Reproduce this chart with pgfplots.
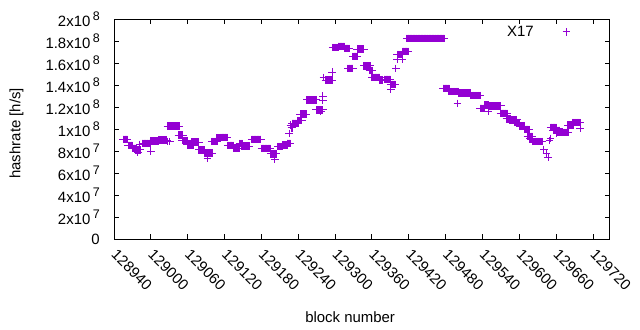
\documentclass[border=0pt]{standalone}
\usepackage{pgfplots}
\pgfplotsset{compat=1.18}
\usepackage{pgfplotstable}
\usepackage{fontspec}
\setmainfont{Liberation Sans}
\definecolor{gpviolet}{HTML}{9400D3}
\newcommand{\sci}[2]{#1x10\,\raisebox{0.42em}{\fontsize{12.5}{12}\selectfont #2}}
\pgfplotstableread{
x y
128955 90.6
128956 90.6
128957 90.6
128958 90.6
128959 90.6
128960 90.6
128961 90.6
128962 90.6
128963 85
128964 85
128965 85
128966 85
128967 85
128968 85
128969 85
128970 85
128970 82.4
128971 82.4
128972 82.4
128973 82.4
128974 82.4
128975 82.4
128976 82.4
128977 82.4
128975 81
128976 81
128977 81
128978 81
128979 81
128980 81
128981 81
128982 81
128983 81
128979 78.5
128982 86
128986 87
128987 87
128988 87
128989 87
128990 87
128991 87
128992 87
128993 87
128994 87
128995 87
128996 87
128997 87
128998 87
128999 87
129000 80
129000 89
129001 89
129002 89
129003 89
129004 89
129005 89
129006 89
129007 89
129008 89
129009 89
129010 89
129011 89
129012 89
129013 89
129012 90
129013 90
129014 90
129015 90
129016 90
129017 90
129018 90
129019 90
129020 90
129021 90
129022 90
129023 90
129024 90
129025 90
129026 90
129027 88.5
129031 88.5
129027 102.7
129028 102.7
129029 102.7
129030 102.7
129031 102.7
129032 102.7
129033 102.7
129034 102.7
129035 102.7
129036 102.7
129037 102.7
129038 102.7
129039 102.7
129040 102.7
129041 102.7
129042 102.7
129043 102.7
129044 102.7
129045 102.7
129046 102.7
129045 94.5
129046 94.5
129047 94.5
129048 94.5
129049 94.5
129050 94.5
129051 94.5
129052 94.5
129051 89.5
129052 89.5
129053 89.5
129054 89.5
129055 89.5
129056 89.5
129057 89.5
129058 89.5
129059 89.5
129059 85.5
129060 85.5
129061 85.5
129062 85.5
129063 85.5
129064 85.5
129065 85.5
129066 85.5
129067 85.5
129068 85.5
129069 85.5
129070 85.5
129067 88
129068 88
129069 88
129070 88
129071 88
129072 88
129073 88
129074 88
129075 88
129076 88
129077 88
129078 88
129078 81
129079 81
129080 81
129081 81
129082 81
129083 81
129084 81
129085 81
129086 81
129087 81
129088 81
129088 78
129089 78
129090 78
129091 78
129092 78
129093 78
129094 78
129095 78
129096 78
129097 78
129098 78
129099 78
129100 78
129092 73.6
129099 88.6
129100 88.6
129101 88.6
129102 88.6
129103 88.6
129104 88.6
129105 88.6
129106 88.6
129107 88.6
129108 88.6
129107 91.8
129108 91.8
129109 91.8
129110 91.8
129111 91.8
129112 91.8
129113 91.8
129114 91.8
129114 92.4
129115 92.4
129116 92.4
129117 92.4
129118 92.4
129119 92.4
129120 92.4
129121 92.4
129122 92.4
129123 92.4
129124 92.4
129125 85
129126 85
129127 85
129128 85
129129 85
129130 85
129131 85
129132 85
129133 85
129134 85
129134 82.7
129135 82.7
129136 82.7
129137 82.7
129138 82.7
129139 82.7
129140 82.7
129141 82.7
129142 82.7
129143 82.7
129144 82.7
129145 82.7
129144 86.8
129145 86.8
129146 86.8
129147 86.8
129148 86.8
129149 86.8
129150 86.8
129148 84.5
129149 84.5
129150 84.5
129151 84.5
129152 84.5
129153 84.5
129154 84.5
129155 84.5
129156 84.5
129157 84.5
129158 84.5
129159 84.5
129160 84.5
129161 84.5
129164 90.6
129165 90.6
129166 90.6
129167 90.6
129168 90.6
129169 90.6
129170 90.6
129171 90.6
129172 90.6
129173 90.6
129174 90.6
129175 90.6
129176 90.6
129177 90.6
129178 90.6
129179 90.6
129180 82.4
129181 82.4
129182 82.4
129183 82.4
129184 82.4
129185 82.4
129186 82.4
129187 82.4
129188 82.4
129189 82.4
129190 82.4
129191 82.4
129192 82.4
129193 82.4
129194 82.4
129195 82.4
129195 77.5
129196 77.5
129197 77.5
129198 77.5
129199 77.5
129200 77.5
129201 77.5
129202 77.5
129203 77.5
129204 77.5
129202 72.7
129207 84
129208 84
129209 84
129210 84
129211 84
129212 84
129213 84
129214 84
129215 84
129215 85.5
129216 85.5
129217 85.5
129218 85.5
129219 85.5
129220 85.5
129221 85.5
129222 85.5
129222 87
129223 87
129224 87
129225 87
129226 87
129227 87
129225 96
129227 103.6
129229 101
129231 101
129230 105
129231 105
129232 105
129233 105
129234 105
129235 105
129236 105
129237 105
129238 105
129239 105
129240 105
129238 107.7
129239 107.7
129240 107.7
129241 107.7
129242 107.7
129243 107.7
129244 107.7
129245 107.7
129246 107.7
129243 113.6
129244 113.6
129245 113.6
129246 113.6
129247 113.6
129248 113.6
129249 113.6
129250 113.6
129251 113.6
129252 113.6
129253 113.6
129254 126.4
129255 126.4
129256 126.4
129257 126.4
129258 126.4
129259 126.4
129260 126.4
129261 126.4
129262 126.4
129263 126.4
129264 126.4
129265 126.4
129266 126.4
129267 126.4
129268 126.4
129269 126.4
129270 126.4
129269 117.3
129270 117.3
129271 117.3
129272 117.3
129273 117.3
129274 117.3
129275 117.3
129276 117.3
129277 117.3
129278 117.3
129279 117.3
129280 117.3
129277 115.7
129280 130
129280 125.7
129281 147
129284 144.5
129285 144.5
129286 144.5
129287 144.5
129288 144.5
129289 144.5
129290 144.5
129291 144.5
129292 144.5
129293 144.5
129294 144.5
129295 144.5
129296 144.5
129295 151.8
129296 174
129297 174
129298 174
129299 174
129300 174
129301 174
129302 174
129303 174
129304 174
129305 174
129305 175
129306 175
129307 175
129308 175
129309 175
129310 175
129311 175
129312 175
129313 175
129314 175
129315 175
129315 173.4
129316 173.4
129317 173.4
129318 173.4
129319 173.4
129320 173.4
129321 173.4
129322 173.4
129323 173.4
129321 155
129322 155
129323 155
129324 155
129325 155
129326 155
129327 155
129328 155
129329 155
129329 166
129330 166
129331 166
129332 166
129333 166
129334 166
129335 166
129336 166
129336 172.5
129337 172.5
129338 172.5
129339 172.5
129340 172.5
129341 172.5
129342 172.5
129343 172.5
129344 172.5
129345 172.5
129346 172.5
129347 172.5
129347 157.3
129348 157.3
129349 157.3
129350 157.3
129351 157.3
129352 157.3
129353 157.3
129354 157.3
129355 157.3
129356 157.3
129357 157.3
129356 153
129357 153
129358 153
129359 153
129360 153
129361 153
129360 147
129361 147
129362 147
129363 147
129364 147
129365 147
129366 147
129367 147
129368 147
129369 147
129370 147
129371 147
129372 147
129373 147
129373 144.5
129374 144.5
129375 144.5
129376 144.5
129377 144.5
129378 144.5
129380 145
129381 145
129382 145
129383 145
129384 145
129385 145
129386 145
129387 145
129388 145
129389 145
129390 145
129390 140.5
129391 140.5
129392 140.5
129393 140.5
129394 140.5
129395 140.5
129396 140.5
129397 140.5
129398 140.5
129391 136
129399 155
129401 163
129409 163
129401 167.6
129402 167.6
129403 167.6
129404 167.6
129405 167.6
129406 167.6
129407 167.6
129408 167.6
129409 167.6
129410 167.6
129410 170.6
129411 170.6
129412 170.6
129413 170.6
129414 170.6
129415 170.6
129416 170.6
129417 170.6
129418 170.6
129419 170.6
129417 182.4
129418 182.4
129419 182.4
129420 182.4
129421 182.4
129422 182.4
129423 182.4
129424 182.4
129425 182.4
129426 182.4
129427 182.4
129428 182.4
129429 182.4
129430 182.4
129431 182.4
129432 182.4
129433 182.4
129434 182.4
129435 182.4
129436 182.4
129437 182.4
129438 182.4
129439 182.4
129440 182.4
129441 182.4
129442 182.4
129443 182.4
129444 182.4
129445 182.4
129446 182.4
129447 182.4
129448 182.4
129449 182.4
129450 182.4
129451 182.4
129452 182.4
129453 182.4
129454 182.4
129455 182.4
129456 182.4
129457 182.4
129458 182.4
129459 182.4
129460 182.4
129461 182.4
129462 182.4
129463 182.4
129464 182.4
129465 182.4
129466 182.4
129467 182.4
129468 182.4
129469 182.4
129470 182.4
129471 182.4
129472 182.4
129473 182.4
129474 182.4
129475 182.4
129476 182.4
129477 182.4
129478 182.4
129476 137
129477 137
129478 137
129479 137
129480 137
129481 137
129482 137
129483 137
129484 137
129485 137
129486 137
129485 134
129486 134
129487 134
129488 134
129489 134
129490 134
129491 134
129492 134
129493 134
129494 134
129495 134
129496 134
129497 134
129498 134
129499 134
129500 134
129501 134
129499 123.4
129501 132.5
129502 132.5
129503 132.5
129504 132.5
129505 132.5
129506 132.5
129507 132.5
129508 132.5
129509 132.5
129510 132.5
129511 132.5
129512 132.5
129513 132.5
129514 132.5
129515 132.5
129516 132.5
129517 132.5
129518 132.5
129519 132.5
129520 132.5
129520 130.3
129521 130.3
129522 130.3
129523 130.3
129524 130.3
129525 130.3
129526 130.3
129527 130.3
129528 130.3
129529 130.3
129530 130.3
129531 130.3
129532 130.3
129533 130.3
129534 130.3
129535 130.3
129536 130.3
129537 130.3
129536 118.8
129537 118.8
129538 118.8
129539 118.8
129540 118.8
129541 118.8
129542 118.8
129543 118.8
129543 121.8
129544 121.8
129545 121.8
129546 121.8
129547 121.8
129548 121.8
129549 121.8
129550 121
129551 121
129552 121
129553 121
129554 121
129555 121
129556 121
129557 121
129558 121
129559 121
129560 121
129561 121
129562 121
129563 121
129564 121
129565 121
129566 121
129567 121
129568 121
129569 121
129570 121
129550 115.7
129569 114.3
129570 114.3
129571 114.3
129572 114.3
129573 114.3
129574 114.3
129575 114.3
129576 114.3
129577 114.3
129578 114.3
129579 114.3
129580 114.3
129579 109.3
129580 109.3
129581 109.3
129582 109.3
129583 109.3
129584 109.3
129585 109.3
129586 109.3
129584 108.2
129585 108.2
129586 108.2
129587 108.2
129588 108.2
129589 108.2
129590 108.2
129591 108.2
129592 108.2
129593 108.2
129594 108.2
129595 108.2
129596 108.2
129592 105.7
129593 105.7
129594 105.7
129595 105.7
129596 105.7
129597 105.7
129598 105.7
129599 105.7
129600 105.7
129601 105.7
129601 102.7
129602 102.7
129603 102.7
129604 102.7
129605 102.7
129606 102.7
129607 102.7
129608 102.7
129609 102.7
129609 99.6
129610 99.6
129611 99.6
129612 99.6
129613 99.6
129614 99.6
129615 99.6
129616 99.6
129613 93.4
129614 93.4
129615 93.4
129616 93.4
129617 93.4
129618 93.4
129619 93.4
129620 93.4
129621 93.4
129617 91
129618 91
129619 91
129620 91
129621 91
129622 88.5
129623 88.5
129624 88.5
129625 88.5
129626 88.5
129627 88.5
129628 88.5
129629 88.5
129630 88.5
129631 88.5
129632 88.5
129633 88.5
129634 88.5
129635 88.5
129636 88.5
129637 88.5
129638 88.5
129640 81.5
129644 77.3
129647 74.2
129649 89.4
129651 91.5
129651 101.5
129652 101.5
129653 101.5
129654 101.5
129655 101.5
129656 101.5
129657 101.5
129658 101.5
129659 101.5
129660 101.5
129655 98.8
129656 98.8
129657 98.8
129658 98.8
129659 98.8
129660 98.8
129661 98.8
129662 98.8
129663 98.8
129664 98.8
129665 98.8
129666 98.8
129661 96
129662 97.3
129663 97.3
129664 97.3
129665 97.3
129666 97.3
129667 97.3
129668 97.3
129669 97.3
129670 97.3
129671 97.3
129670 96.6
129671 96.6
129672 96.6
129673 96.6
129674 96.6
129675 96.6
129676 96.6
129677 96.6
129678 96.6
129679 96.6
129680 96.6
129679 103.6
129680 103.6
129681 103.6
129682 103.6
129683 103.6
129684 103.6
129685 103.6
129686 103.6
129687 103.6
129688 103.6
129686 105.7
129687 105.7
129688 105.7
129689 105.7
129690 105.7
129691 105.7
129692 105.7
129693 105.7
129694 105.7
129695 105.7
129696 105.7
129697 105.7
129698 105.7
129699 100.6
129699 105.5
}\hashdata
\begin{document}
\begin{tikzpicture}[font=\fontsize{15}{18}\selectfont]
\path[use as bounding box] (0,0) rectangle (640bp,330bp);
\begin{axis}[
  at={(114bp,91bp)}, anchor=south west,
  scale only axis, width=495bp, height=220bp,
  xmin=128940, xmax=129746, ymin=0, ymax=200,
  scaled x ticks=false, scaled y ticks=false,
  xtick={128940,129000,129060,129120,129180,129240,129300,129360,129420,129480,129540,129600,129660,129720},
  xticklabels={128940,129000,129060,129120,129180,129240,129300,129360,129420,129480,129540,129600,129660,129720},
  ytick={0,20,40,60,80,100,120,140,160,180,200},
  yticklabels={0,\sci{2}{7},\sci{4}{7},\sci{6}{7},\sci{8}{7},\sci{1}{8},\sci{1.2}{8},\sci{1.4}{8},\sci{1.6}{8},\sci{1.8}{8},\sci{2}{8}},
  xtick pos=both, ytick pos=both,
  tick align=inside, major tick length=4.5bp,
  axis line style={line width=1bp},
  every tick/.style={black, line width=1bp},
  xticklabel style={rotate=-45, anchor=west, inner sep=0pt},
  xticklabel shift=13bp,
  yticklabel style={inner sep=0pt},
  yticklabel shift=14bp,
  xlabel={block number},
  xlabel style={at={(axis description cs:0.477,-0.3545)}, anchor=center},
  ylabel={hashrate [h/s]},
  ylabel style={at={(axis description cs:-0.197,0.48)}, anchor=center},
  legend plot pos=right,
  legend style={draw=none, fill=none, inner sep=0pt,
    at={(axis description cs:0.9227,0.941)}, anchor=east,
    /tikz/every even column/.style={column sep=0pt}},
  legend image code/.code={\path (0bp,0bp) (33.75bp,0bp); \draw[#1] plot coordinates {(30bp,0bp)};},
]
\addplot[only marks, mark=+, mark size=3.75bp, color=gpviolet, line width=1bp] table {\hashdata};
\addlegendentry{X17}
\end{axis}
\end{tikzpicture}
\end{document}
